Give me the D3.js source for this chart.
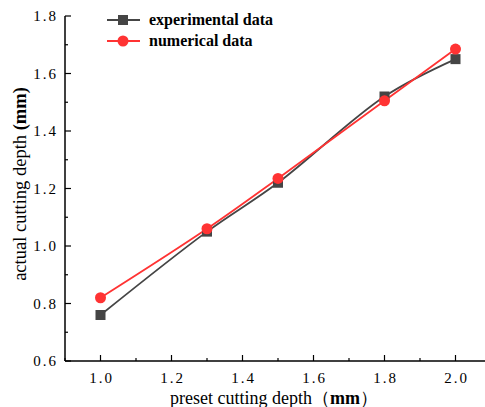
<!DOCTYPE html>
<html><head><meta charset="utf-8">
<script src="https://cdn.jsdelivr.net/npm/d3@7"></script>
<style>body{margin:0;background:#fff}svg{display:block}</style>
</head><body>
<script>
const xValues = [1.0, 1.3, 1.5, 1.8, 2.0];
const experimental = [0.76, 1.05, 1.22, 1.52, 1.65];
const numerical = [0.82, 1.06, 1.235, 1.505, 1.685];
const xTicks = [1.0, 1.2, 1.4, 1.6, 1.8, 2.0];
const yTicks = [0.6, 0.8, 1.0, 1.2, 1.4, 1.6, 1.8];
const seriesNames = ["experimental data", "numerical data"];

const W = 485, H = 407;
const svg = d3.select("body").append("svg").attr("width", W).attr("height", H);
const x = d3.scaleLinear().domain([0.9, 2.1]).range([65, 491]);
const y = d3.scaleLinear().domain([0.6, 1.8]).range([361, 16]);
const serif = "'Liberation Serif','DejaVu Serif',serif";

// axes
const gx = svg.append("g").attr("transform", "translate(0,361)");
gx.append("line").attr("x1", 65).attr("x2", 491).attr("stroke", "#000").attr("stroke-width", 1.5);
d3.range(0.9, 2.101, 0.1).forEach(v => {
  const major = Math.abs(Math.round(v * 10) % 2) === 0;
  gx.append("line").attr("x1", x(v)).attr("x2", x(v)).attr("y1", 0).attr("y2", major ? -6 : -3)
    .attr("stroke", "#000").attr("stroke-width", 1.2);
});
xTicks.forEach(v => {
  gx.append("text").attr("x", x(v) + 1).attr("y", 22).attr("text-anchor", "middle")
    .attr("font-family", serif).attr("font-size", 15).attr("letter-spacing", "2px")
    .text(v.toFixed(1));
});

const gy = svg.append("g").attr("transform", "translate(65,0)");
gy.append("line").attr("y1", 16).attr("y2", 361).attr("stroke", "#000").attr("stroke-width", 1.5);
d3.range(0.6, 1.801, 0.1).forEach(v => {
  const major = Math.abs(Math.round(v * 10) % 2) === 0;
  gy.append("line").attr("y1", y(v)).attr("y2", y(v)).attr("x1", 0).attr("x2", major ? 6 : 3)
    .attr("stroke", "#000").attr("stroke-width", 1.2);
});
yTicks.forEach(v => {
  gy.append("text").attr("x", -7).attr("y", y(v) + 5).attr("text-anchor", "end")
    .attr("font-family", serif).attr("font-size", 15).attr("letter-spacing", "2px")
    .text(v.toFixed(1));
});

// titles
const xt = svg.append("text").attr("x", 274).attr("y", 404).attr("text-anchor", "middle")
  .attr("font-family", serif).attr("font-size", 18);
xt.append("tspan").text("preset cutting depth（");
xt.append("tspan").attr("font-weight", "bold").text("mm");
xt.append("tspan").text("）");

const yt = svg.append("text").attr("transform", "translate(26,184) rotate(-90)").attr("text-anchor", "middle")
  .attr("font-family", serif).attr("font-size", 18.5);
yt.append("tspan").text("actual cutting depth ");
yt.append("tspan").attr("font-weight", "bold").text("(mm)");

// lines
const colors = ["#454545", "#ff3333"];
const data = [experimental, numerical];
const line = d3.line().x(d => x(d[0])).y(d => y(d[1])).curve(d3.curveCatmullRom.alpha(0.5));
data.forEach((s, i) => {
  svg.append("path").datum(xValues.map((v, j) => [v, s[j]]))
    .attr("d", line).attr("fill", "none").attr("stroke", colors[i]).attr("stroke-width", 1.8);
});
// markers
xValues.forEach((v, j) => {
  svg.append("rect").attr("x", x(v) - 5).attr("y", y(experimental[j]) - 5).attr("width", 10).attr("height", 10)
    .attr("fill", colors[0]);
});
xValues.forEach((v, j) => {
  svg.append("circle").attr("cx", x(v)).attr("cy", y(numerical[j])).attr("r", 5.5).attr("fill", colors[1]);
});

// legend
seriesNames.forEach((name, i) => {
  const ly = 20 + i * 21;
  svg.append("line").attr("x1", 107).attr("x2", 140).attr("y1", ly).attr("y2", ly)
    .attr("stroke", colors[i]).attr("stroke-width", 1.8);
  if (i === 0) svg.append("rect").attr("x", 118).attr("y", ly - 5).attr("width", 10).attr("height", 10).attr("fill", colors[0]);
  else svg.append("circle").attr("cx", 123).attr("cy", ly).attr("r", 5.5).attr("fill", colors[1]);
  svg.append("text").attr("x", 149).attr("y", ly + 5).attr("font-family", serif).attr("font-weight", "bold")
    .attr("font-size", 16).text(name);
});
</script>
</body></html>
